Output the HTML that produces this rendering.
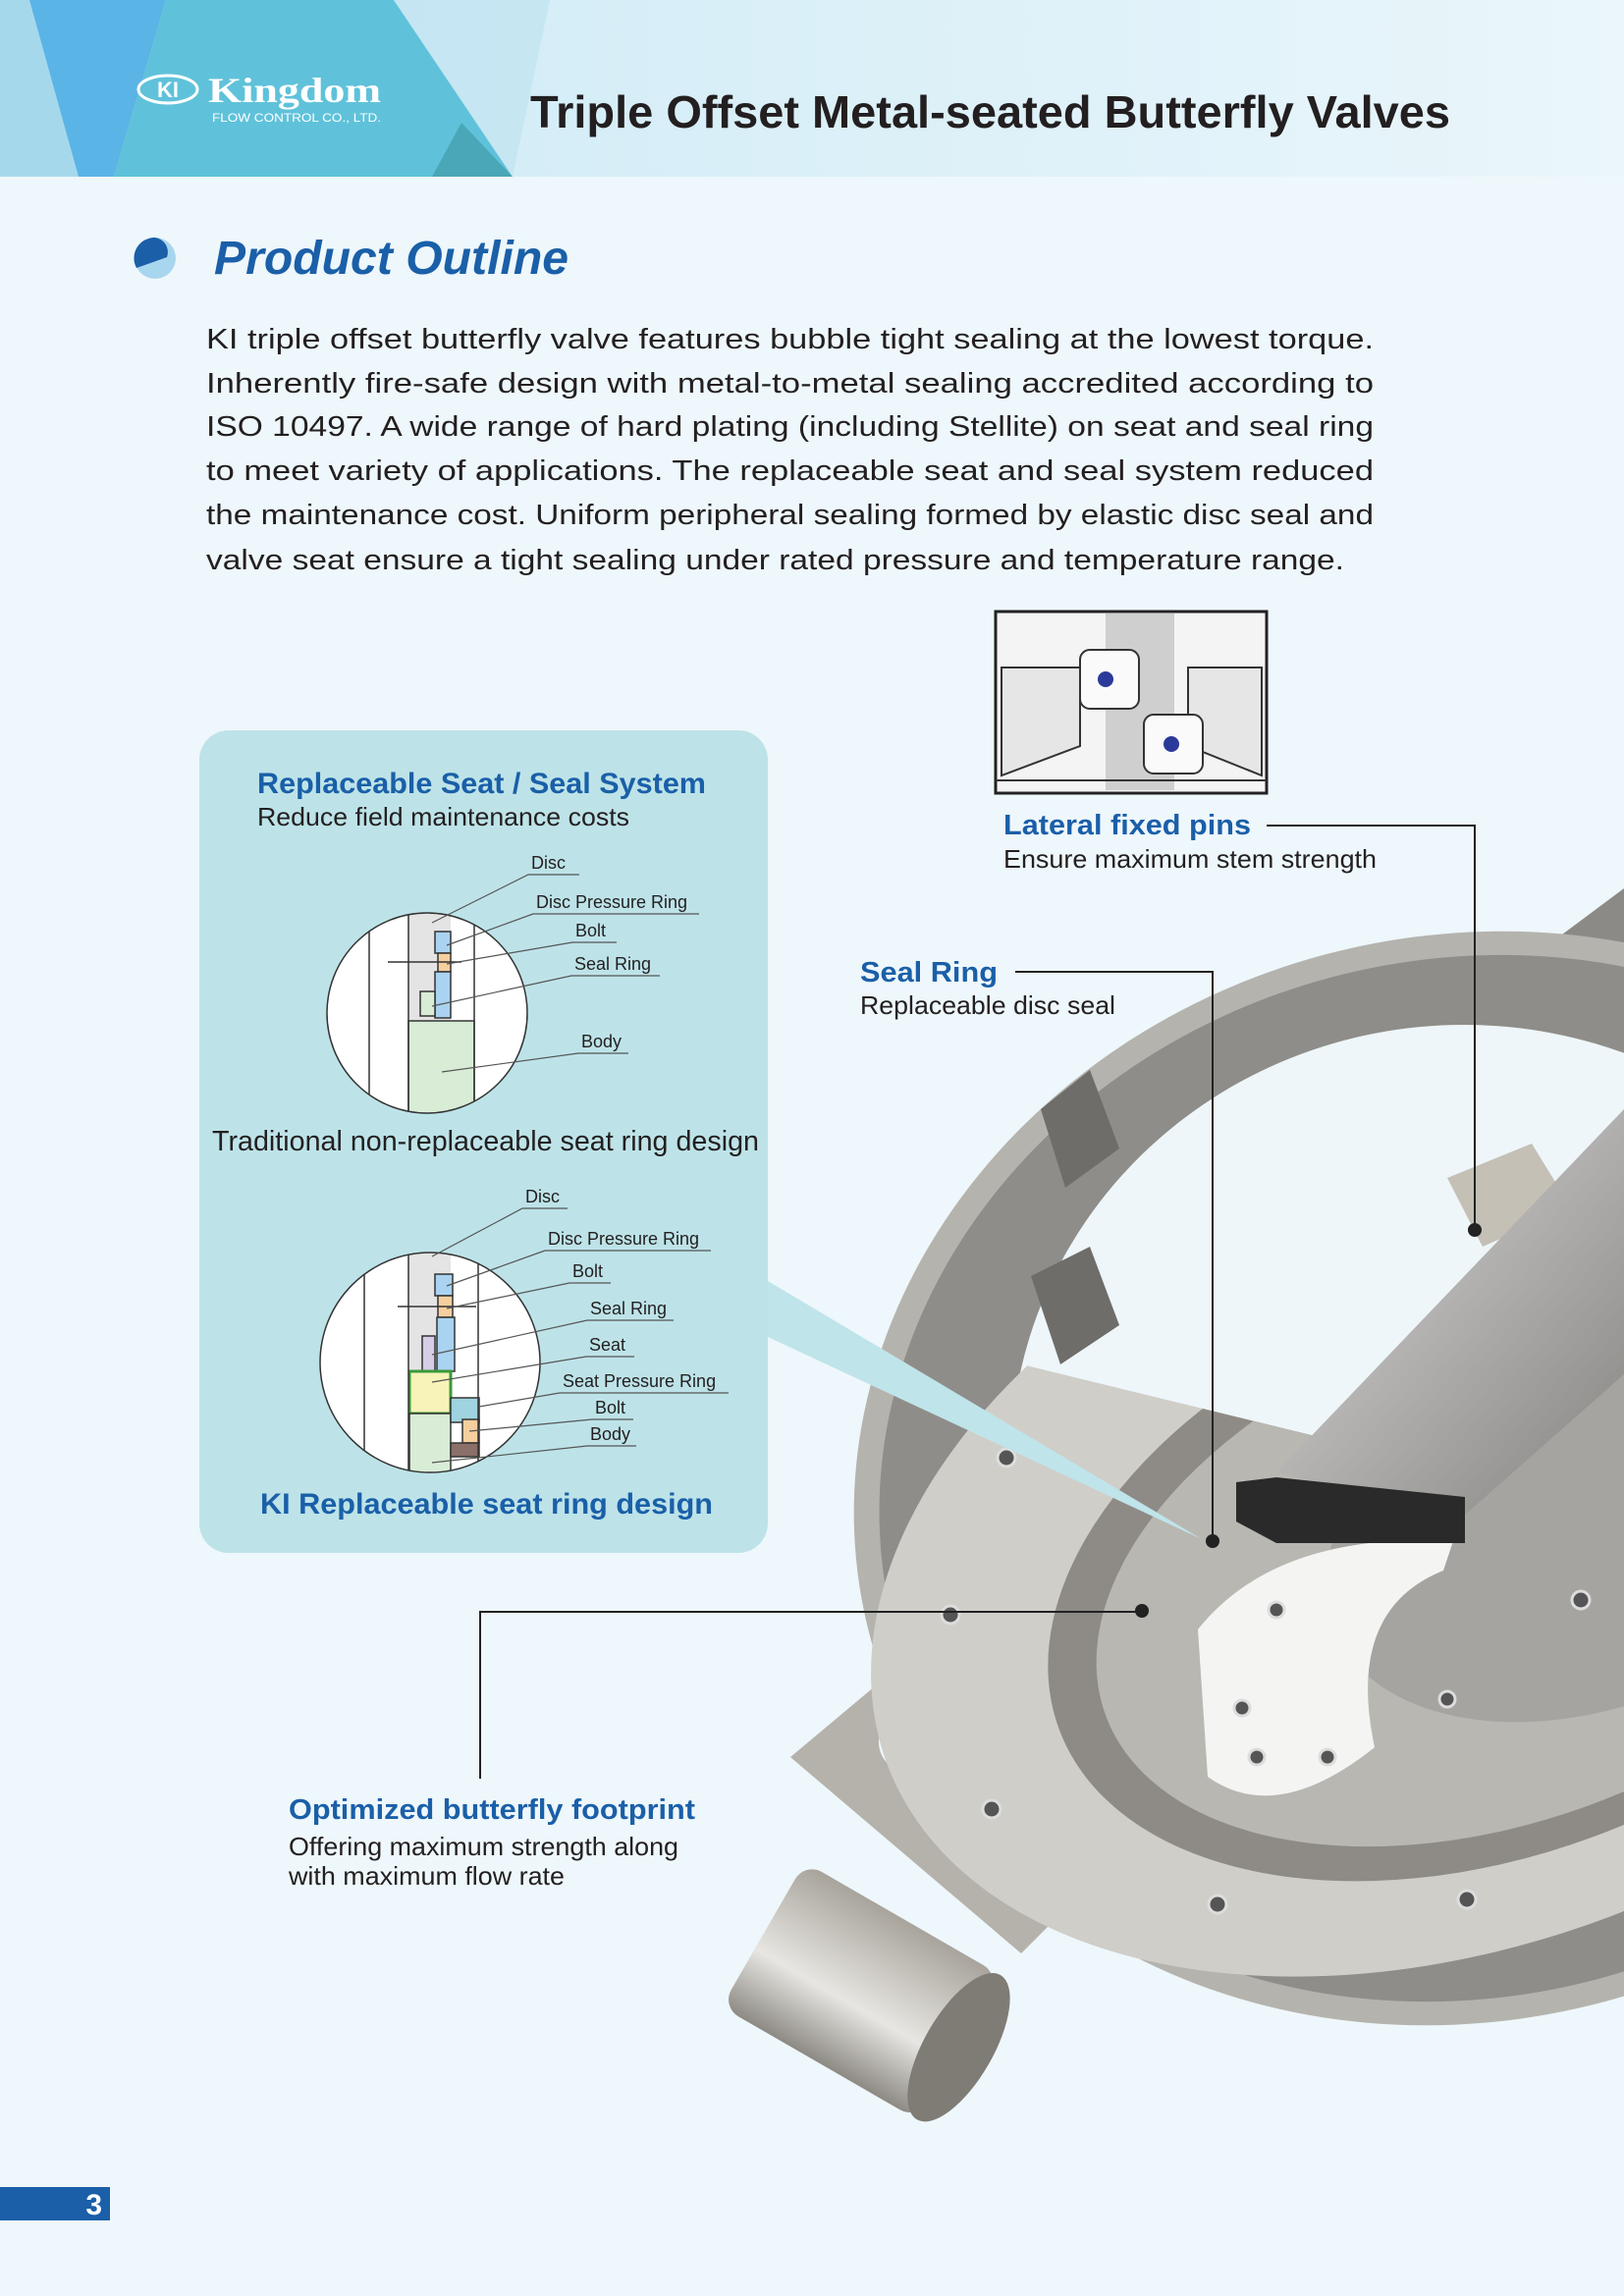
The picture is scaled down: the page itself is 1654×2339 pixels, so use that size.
<!DOCTYPE html>
<html><head><meta charset="utf-8"><style>
html,body{margin:0;padding:0}
body{width:1654px;height:2339px;position:relative;background:#eef7fb;overflow:hidden;font-family:"Liberation Sans",sans-serif}
svg{position:absolute;left:0;top:0}
</style></head><body>
<svg width="1654" height="2339" viewBox="0 0 1654 2339" xmlns="http://www.w3.org/2000/svg">
<defs>
<linearGradient id="hdr" x1="0" x2="1" y1="0" y2="0"><stop offset="0" stop-color="#cbe9f5"/><stop offset="1" stop-color="#eaf6fb"/></linearGradient>
<linearGradient id="stem" x1="0" y1="0" x2="1" y2="1"><stop offset="0" stop-color="#dcdcdb"/><stop offset="0.5" stop-color="#b1b0ae"/><stop offset="1" stop-color="#858481"/></linearGradient>
<linearGradient id="cyl" x1="0" y1="0" x2="0" y2="1"><stop offset="0" stop-color="#a8a49c"/><stop offset="0.6" stop-color="#e8e6e2"/><stop offset="1" stop-color="#8d8a84"/></linearGradient>
<clipPath id="c1"><circle cx="435" cy="1032" r="102"/></clipPath>
<clipPath id="c2"><circle cx="438" cy="1388" r="112"/></clipPath>
<clipPath id="fl"><polygon points="850,1380 1000,1380 1654,1540 1654,2339 850,2339"/></clipPath>
</defs>
<rect x="0" y="0" width="1654" height="180" fill="url(#hdr)"/>
<polygon points="0,0 60,0 116,180 0,180" fill="#a6d8ec"/>
<polygon points="30,0 169,0 116,180 80,180" fill="#5bb4e6"/>
<polygon points="169,0 401,0 522,180 116,180" fill="#5fc2da"/>
<polygon points="401,0 560,0 522,180" fill="#bfe3ef" opacity="0.7"/>
<polygon points="470,125 522,180 440,180" fill="#4aa7b7"/>
<ellipse cx="171" cy="91" rx="30" ry="14" fill="none" stroke="#fff" stroke-width="3"/>
<text x="171" y="99" font-size="22" font-weight="bold" fill="#fff" text-anchor="middle">KI</text>
<text x="212" y="104" font-size="36" font-weight="bold" fill="#fff" font-family="Liberation Serif" textLength="176" lengthAdjust="spacingAndGlyphs">Kingdom</text>
<text x="216" y="124" font-size="12" fill="#fff" textLength="172" lengthAdjust="spacingAndGlyphs">FLOW CONTROL CO., LTD.</text>
<text x="540" y="130" font-size="46" font-weight="bold" fill="#231f20" textLength="937" lengthAdjust="spacingAndGlyphs">Triple Offset Metal-seated  Butterfly Valves</text>
<circle cx="158" cy="263" r="21" fill="#a8d6ee"/>
<path d="M158,242 A21,21 0 0 0 139,273 L170,262 A15,15 0 0 0 158,242Z" fill="#1a5fa8"/>
<text x="218" y="279" font-size="48" font-weight="bold" font-style="italic" fill="#1a5fa8" textLength="361" lengthAdjust="spacingAndGlyphs">Product Outline</text>
<g font-size="29" fill="#231f20">
<text x="210" y="355" textLength="1189" lengthAdjust="spacingAndGlyphs">KI triple offset butterfly valve features bubble tight sealing at the lowest torque.</text>
<text x="210" y="400" textLength="1189" lengthAdjust="spacingAndGlyphs">Inherently fire-safe design with metal-to-metal sealing accredited according to</text>
<text x="210" y="444" textLength="1189" lengthAdjust="spacingAndGlyphs">ISO 10497. A wide range of hard plating (including Stellite) on seat and seal ring</text>
<text x="210" y="489" textLength="1189" lengthAdjust="spacingAndGlyphs">to meet variety of applications. The replaceable seat and seal system reduced</text>
<text x="210" y="534" textLength="1189" lengthAdjust="spacingAndGlyphs">the maintenance cost. Uniform peripheral sealing formed by elastic disc seal and</text>
<text x="210" y="580" textLength="1159" lengthAdjust="spacingAndGlyphs">valve seat  ensure a tight sealing under rated pressure and temperature range.</text>
</g>
<!-- valve -->
<g>
<polygon points="1540,990 1654,905 1654,1080 1560,1080" fill="#8c8a86"/>
<ellipse cx="1491" cy="1506" rx="626" ry="552" transform="rotate(-15 1491 1506)" fill="#b5b3ae"/>
<ellipse cx="1491" cy="1506" rx="600" ry="528" transform="rotate(-15 1491 1506)" fill="#8f8d89"/>
<ellipse cx="1491" cy="1491" rx="462" ry="447" fill="#eef6f9"/>
<polygon points="1060,1130 1110,1090 1140,1170 1085,1210" fill="#6f6d69"/>
<polygon points="1050,1300 1110,1270 1140,1350 1080,1390" fill="#6f6d69"/>
<polygon points="1474,1200 1560,1165 1600,1230 1510,1270" fill="#c4c0b6"/>
<polygon points="1600,1270 1654,1250 1654,1320 1620,1330" fill="#c4c0b6"/>
<polygon points="805,1790 960,1660 1140,1890 1040,1990" fill="#b5b2ac"/>
<circle cx="925" cy="1775" r="30" fill="#eef6f9"/>
<g clip-path="url(#fl)">
<ellipse cx="1491" cy="1581" rx="626" ry="400" transform="rotate(-20 1491 1581)" fill="#d0cec9"/>
<ellipse cx="1520" cy="1600" rx="470" ry="290" transform="rotate(-20 1520 1600)" fill="#8e8b86"/>
<ellipse cx="1530" cy="1600" rx="430" ry="255" transform="rotate(-20 1530 1600)" fill="#b9b7b2"/>
</g>
<ellipse cx="1620" cy="1560" rx="280" ry="180" transform="rotate(-20 1620 1560)" fill="#a6a4a0"/>
<path d="M1220,1660 Q1300,1560 1480,1570 L1470,1600 Q1370,1640 1400,1780 Q1300,1860 1230,1810 Z" fill="#f4f4f3"/>
<polygon points="1300,1500 1654,1130 1654,1400 1490,1545" fill="url(#stem)"/>
<polygon points="1259,1510 1300,1505 1492,1525 1492,1572 1300,1572 1259,1550" fill="#2a2a2a"/>
<g transform="rotate(30 870 2030)">
<rect x="760" y="1940" width="230" height="170" rx="20" fill="url(#cyl)"/>
<ellipse cx="990" cy="2025" rx="35" ry="85" fill="#7f7c76"/>
</g>
<g fill="#555" stroke="#ddd" stroke-width="3">
<circle cx="1025" cy="1485" r="9"/><circle cx="968" cy="1645" r="9"/><circle cx="1010" cy="1843" r="9"/>
<circle cx="1240" cy="1940" r="9"/><circle cx="1494" cy="1935" r="9"/><circle cx="1610" cy="1630" r="9"/>
<circle cx="1300" cy="1640" r="8"/><circle cx="1265" cy="1740" r="8"/><circle cx="1280" cy="1790" r="8"/>
<circle cx="1352" cy="1790" r="8"/><circle cx="1474" cy="1731" r="8"/>
</g>
</g>
<rect x="1014" y="623" width="276" height="185" fill="#f4f4f4" stroke="#222" stroke-width="3"/>
<rect x="1126" y="625" width="70" height="180" fill="#cfcfcf"/>
<polygon points="1020,680 1100,680 1100,760 1020,790" fill="#e6e6e6" stroke="#333" stroke-width="2"/>
<polygon points="1210,680 1285,680 1285,790 1210,760" fill="#e6e6e6" stroke="#333" stroke-width="2"/>
<rect x="1100" y="662" width="60" height="60" rx="10" fill="#fafafa" stroke="#333" stroke-width="2"/>
<rect x="1165" y="728" width="60" height="60" rx="10" fill="#fafafa" stroke="#333" stroke-width="2"/>
<circle cx="1126" cy="692" r="8" fill="#2b3a9a"/>
<circle cx="1193" cy="758" r="8" fill="#2b3a9a"/>
<line x1="1014" y1="795" x2="1290" y2="795" stroke="#333" stroke-width="2"/>
<polygon points="782,1305 782,1362 1224,1568" fill="#bfe4ea"/>
<rect x="203" y="744" width="579" height="838" rx="30" fill="#bde3e8"/>
<text x="262" y="808" font-size="30" font-weight="bold" fill="#1a5fa8" textLength="457" lengthAdjust="spacingAndGlyphs">Replaceable Seat / Seal System</text>
<text x="262" y="841" font-size="26" fill="#231f20" textLength="379" lengthAdjust="spacingAndGlyphs">Reduce field maintenance costs</text>
<circle cx="435" cy="1032" r="102" fill="#fff"/>
<g clip-path="url(#c1)" stroke="#333" stroke-width="1.5">
<rect x="416" y="925" width="43" height="115" fill="#e4e4e4" stroke="none"/>
<rect x="416" y="1040" width="67" height="100" fill="#d8ecd6"/>
<rect x="443" y="949" width="16" height="22" fill="#a9d3f0"/>
<rect x="446" y="971" width="13" height="19" fill="#f5cf9e"/>
<rect x="443" y="990" width="16" height="47" fill="#a9d3f0"/>
<rect x="428" y="1010" width="15" height="25" fill="#d8ecd6"/>
<line x1="376" y1="925" x2="376" y2="1140"/><line x1="416" y1="925" x2="416" y2="1140"/><line x1="483" y1="925" x2="483" y2="1140"/>
<line x1="395" y1="980" x2="470" y2="980"/>
</g>
<circle cx="435" cy="1032" r="102" fill="none" stroke="#333" stroke-width="1.5"/>
<g font-size="18" fill="#231f20">
<text x="541" y="885">Disc</text><text x="546" y="925">Disc Pressure Ring</text><text x="586" y="954">Bolt</text><text x="585" y="988">Seal Ring</text><text x="592" y="1067">Body</text>
</g>
<g stroke="#555" stroke-width="1.2" fill="none">
<polyline points="590,891 538,891 440,940"/><polyline points="712,931 543,931 455,963"/><polyline points="628,960 583,960 455,982"/><polyline points="672,994 582,994 440,1025"/><polyline points="640,1073 589,1073 450,1092"/>
</g>
<text x="216" y="1172" font-size="29" fill="#231f20" textLength="557" lengthAdjust="spacingAndGlyphs">Traditional non-replaceable seat ring design</text>
<circle cx="438" cy="1388" r="112" fill="#fff"/>
<g clip-path="url(#c2)" stroke="#333" stroke-width="1.5">
<rect x="416" y="1270" width="43" height="127" fill="#e4e4e4" stroke="none"/>
<rect x="443" y="1298" width="18" height="22" fill="#a9d3f0"/>
<rect x="446" y="1320" width="15" height="22" fill="#f5cf9e"/>
<rect x="445" y="1342" width="18" height="55" fill="#a9d3f0"/>
<rect x="430" y="1361" width="13" height="36" fill="#d6cde6"/>
<rect x="417" y="1397" width="42" height="43" fill="#f8f3b8" stroke="#3a9a3a" stroke-width="3"/>
<rect x="417" y="1440" width="42" height="65" fill="#d8ecd6"/>
<rect x="459" y="1424" width="29" height="25" fill="#9fd3df"/>
<rect x="471" y="1446" width="17" height="24" fill="#f5cf9e"/>
<rect x="459" y="1470" width="29" height="14" fill="#8a7068"/>
<line x1="371" y1="1270" x2="371" y2="1505"/><line x1="416" y1="1270" x2="416" y2="1505"/><line x1="487" y1="1270" x2="487" y2="1505"/>
<line x1="405" y1="1331" x2="485" y2="1331"/>
</g>
<circle cx="438" cy="1388" r="112" fill="none" stroke="#333" stroke-width="1.5"/>
<g font-size="18" fill="#231f20">
<text x="535" y="1225">Disc</text><text x="558" y="1268">Disc Pressure Ring</text><text x="583" y="1301">Bolt</text><text x="601" y="1339">Seal Ring</text><text x="600" y="1376">Seat</text><text x="573" y="1413">Seat Pressure Ring</text><text x="606" y="1440">Bolt</text><text x="601" y="1467">Body</text>
</g>
<g stroke="#555" stroke-width="1.2" fill="none">
<polyline points="578,1231 532,1231 440,1280"/><polyline points="724,1274 555,1274 455,1310"/><polyline points="622,1307 580,1307 455,1333"/><polyline points="686,1345 598,1345 440,1380"/><polyline points="646,1382 597,1382 440,1408"/><polyline points="742,1419 570,1419 488,1433"/><polyline points="645,1446 603,1446 478,1458"/><polyline points="648,1473 598,1473 440,1490"/>
</g>
<text x="265" y="1542" font-size="30" font-weight="bold" fill="#1a5fa8" textLength="461" lengthAdjust="spacingAndGlyphs">KI Replaceable seat ring design</text>
<text x="1022" y="850" font-size="29" font-weight="bold" fill="#1a5fa8" textLength="252" lengthAdjust="spacingAndGlyphs">Lateral fixed pins</text>
<text x="1022" y="884" font-size="26" fill="#231f20" textLength="380" lengthAdjust="spacingAndGlyphs">Ensure maximum stem strength</text>
<polyline points="1290,841 1502,841 1502,1253" fill="none" stroke="#222" stroke-width="2"/>
<circle cx="1502" cy="1253" r="7" fill="#222"/>
<text x="876" y="1000" font-size="29" font-weight="bold" fill="#1a5fa8" textLength="140" lengthAdjust="spacingAndGlyphs">Seal Ring</text>
<text x="876" y="1033" font-size="26" fill="#231f20" textLength="260" lengthAdjust="spacingAndGlyphs">Replaceable disc seal</text>
<polyline points="1034,990 1235,990 1235,1570" fill="none" stroke="#222" stroke-width="2"/>
<circle cx="1235" cy="1570" r="7" fill="#222"/>
<polyline points="489,1812 489,1642 1163,1642" fill="none" stroke="#222" stroke-width="2"/>
<circle cx="1163" cy="1641" r="7" fill="#222"/>
<text x="294" y="1853" font-size="29" font-weight="bold" fill="#1a5fa8" textLength="414" lengthAdjust="spacingAndGlyphs">Optimized butterfly footprint</text>
<text x="294" y="1890" font-size="26" fill="#231f20" textLength="397" lengthAdjust="spacingAndGlyphs">Offering maximum strength along</text>
<text x="294" y="1920" font-size="26" fill="#231f20" textLength="281" lengthAdjust="spacingAndGlyphs">with maximum flow rate</text>
<rect x="0" y="2228" width="112" height="34" fill="#1a5fa8"/>
<text x="104" y="2256" font-size="30" font-weight="bold" fill="#fff" text-anchor="end">3</text>
</svg>
</body></html>
